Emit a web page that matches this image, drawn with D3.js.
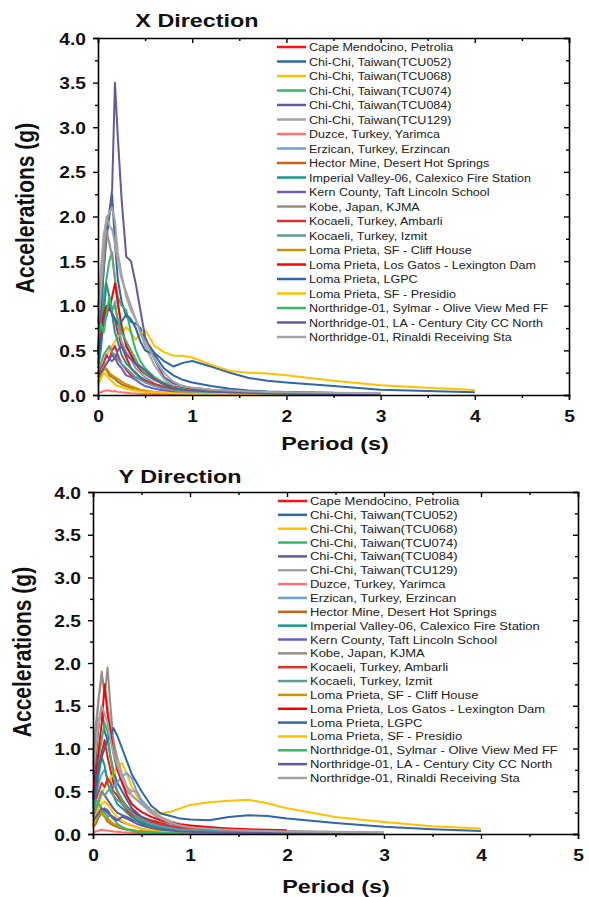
<!DOCTYPE html>
<html>
<head>
<meta charset="utf-8">
<script src="https://cdn.jsdelivr.net/npm/d3@7"></script>
<style>
  html, body { margin: 0; padding: 0; background: #fff; }
  svg { display: block; }
  text { font-family: "Liberation Sans", Arial, sans-serif; }
</style>
</head>
<body>
<svg id="chart" width="589" height="897"></svg>
<script>
// ---------------- DATA ----------------
const periods = [0, 0.03, 0.06, 0.09, 0.12, 0.15, 0.18, 0.21, 0.25, 0.3, 0.35, 0.4, 0.45, 0.5,
                 0.6, 0.7, 0.8, 0.9, 1.0, 1.2, 1.4, 1.6, 1.8, 2.0, 2.5, 3.0, 3.5, 4.0];

const seriesNames = [
  "Cape Mendocino, Petrolia",
  "Chi-Chi, Taiwan(TCU052)",
  "Chi-Chi, Taiwan(TCU068)",
  "Chi-Chi, Taiwan(TCU074)",
  "Chi-Chi, Taiwan(TCU084)",
  "Chi-Chi, Taiwan(TCU129)",
  "Duzce, Turkey, Yarimca",
  "Erzican, Turkey, Erzincan",
  "Hector Mine, Desert Hot Springs",
  "Imperial Valley-06, Calexico Fire Station",
  "Kern County, Taft Lincoln School",
  "Kobe, Japan, KJMA",
  "Kocaeli, Turkey, Ambarli",
  "Kocaeli, Turkey, Izmit",
  "Loma Prieta, SF - Cliff House",
  "Loma Prieta, Los Gatos - Lexington Dam",
  "Loma Prieta, LGPC",
  "Loma Prieta, SF - Presidio",
  "Northridge-01, Sylmar - Olive View Med FF",
  "Northridge-01, LA - Century City CC North",
  "Northridge-01, Rinaldi Receiving Sta"
];

const seriesColors = [
  "#ff1010", "#2f67a8", "#ffc000", "#35b868", "#5f5c9e", "#a4a4a4", "#ff7272",
  "#6fa0d8", "#c6641c", "#139a8b", "#6a5fc6", "#9b8c82", "#db2f2f", "#5e9c9c",
  "#c99500", "#ff0000", "#2f67a8", "#ffc000", "#35b868", "#5f5c9e", "#a4a4a4"
];

const _ = null;
// X direction spectral accelerations (g), one row per record, aligned with periods
const accX = [
  [0.45,0.7,0.95,0.88,1.02,0.92,0.85,0.7,0.55,0.42,0.3,0.25,0.2,0.16,0.11,0.08,0.06,0.05,0.04,0.03,0.025,0.02,0.018,0.015,_,_,_,_],
  [0.5,0.9,1.4,1.75,2.0,2.25,1.7,1.3,1.05,0.88,0.82,0.8,0.75,0.62,0.47,0.38,0.32,0.36,0.38,0.32,0.25,0.19,0.16,0.14,0.1,0.06,0.045,0.03],
  [0.25,0.3,0.38,0.45,0.5,0.55,0.6,0.65,0.7,0.76,0.7,0.62,0.68,0.73,0.55,0.48,0.44,0.44,0.42,0.34,0.27,0.25,0.24,0.22,0.16,0.11,0.08,0.055],
  [0.35,0.7,1.1,1.3,1.5,1.6,1.3,1.1,1.0,0.95,0.7,0.5,0.38,0.3,0.2,0.14,0.1,0.08,0.06,0.04,0.03,0.025,0.02,0.018,0.012,_,_,_],
  [0.5,0.9,1.4,1.9,2.05,2.3,3.5,2.9,2.2,1.55,1.5,1.25,0.95,0.65,0.4,0.2,0.13,0.1,0.08,0.06,0.05,0.04,0.035,0.03,0.02,0.015,_,_],
  [0.95,1.4,1.8,1.95,2.05,2.1,1.95,1.6,1.35,1.1,0.95,0.85,0.7,0.55,0.33,0.18,0.1,0.08,0.06,0.05,0.04,0.035,0.03,0.025,0.02,0.015,_,_],
  [0.02,0.03,0.045,0.05,0.05,0.04,0.045,0.035,0.03,0.025,0.02,0.018,0.015,0.012,0.01,0.008,0.007,0.006,0.005,_,_,_,_,_,_,_,_,_],
  [0.3,0.55,0.8,0.95,1.0,0.95,1.05,0.8,0.6,0.48,0.4,0.3,0.25,0.2,0.13,0.09,0.07,0.05,0.04,0.03,0.025,0.02,0.018,0.015,_,_,_,_],
  [0.15,0.2,0.3,0.28,0.22,0.2,0.18,0.15,0.12,0.1,0.08,0.07,0.05,0.04,0.03,0.02,0.015,0.012,0.01,0.008,0.006,0.005,0.004,0.004,_,_,_,_],
  [0.3,0.5,0.9,1.25,1.1,0.9,0.7,0.6,0.45,0.35,0.3,0.24,0.2,0.17,0.12,0.09,0.07,0.06,0.05,0.04,0.03,0.025,0.02,0.018,_,_,_,_],
  [0.15,0.2,0.3,0.35,0.4,0.38,0.42,0.35,0.3,0.22,0.2,0.17,0.13,0.1,0.07,0.05,0.04,0.03,0.025,0.02,0.015,0.012,0.01,0.01,_,_,_,_],
  [0.8,1.1,1.5,1.85,1.7,1.55,1.3,1.0,0.8,0.55,0.45,0.35,0.3,0.25,0.18,0.12,0.09,0.07,0.06,0.045,0.035,0.03,0.025,0.02,0.015,_,_,_],
  [0.2,0.3,0.35,0.45,0.4,0.5,0.55,0.45,0.35,0.28,0.22,0.2,0.18,0.16,0.12,0.09,0.07,0.05,0.04,0.03,0.025,0.02,0.018,0.015,_,_,_,_],
  [0.25,0.35,0.45,0.5,0.55,0.48,0.45,0.4,0.35,0.3,0.25,0.2,0.17,0.14,0.1,0.07,0.05,0.04,0.035,0.03,0.02,0.018,0.015,0.012,_,_,_,_],
  [0.12,0.2,0.28,0.3,0.25,0.22,0.2,0.18,0.15,0.12,0.1,0.08,0.06,0.05,0.035,0.025,0.02,0.015,0.012,0.01,0.008,0.006,0.005,0.005,_,_,_,_],
  [0.5,0.7,0.9,1.0,0.95,1.1,1.25,1.05,0.75,0.55,0.45,0.35,0.28,0.24,0.17,0.12,0.09,0.075,0.06,0.05,0.04,0.035,0.03,0.028,_,_,_,_],
  [0.45,0.6,0.8,0.95,1.0,0.9,0.85,0.8,0.82,0.9,0.85,0.75,0.6,0.5,0.45,0.3,0.22,0.17,0.14,0.1,0.07,0.05,0.04,0.035,0.025,_,_,_],
  [0.1,0.18,0.25,0.22,0.18,0.15,0.12,0.1,0.09,0.07,0.06,0.05,0.04,0.035,0.03,0.025,0.02,0.018,0.015,0.012,0.01,0.008,0.007,0.006,_,_,_,_],
  [0.6,0.8,0.7,0.9,1.1,0.95,1.0,0.85,0.7,0.6,0.5,0.4,0.3,0.25,0.18,0.12,0.09,0.07,0.05,0.04,0.03,0.025,0.02,0.018,0.012,_,_,_],
  [0.2,0.25,0.3,0.35,0.4,0.45,0.4,0.5,0.55,0.45,0.4,0.35,0.32,0.28,0.18,0.12,0.08,0.06,0.05,0.04,0.03,0.025,0.02,0.018,0.012,0.01,_,_],
  [0.8,1.2,1.7,2.0,1.9,1.85,1.7,1.5,1.3,1.15,1.0,0.85,0.7,0.6,0.4,0.25,0.15,0.1,0.08,0.06,0.05,0.04,0.035,0.03,0.025,0.02,_,_]
];

// Y direction spectral accelerations (g)
const accY = [
  [0.4,0.6,0.8,0.95,1.1,0.9,0.75,0.6,0.5,0.4,0.32,0.27,0.23,0.2,0.16,0.13,0.11,0.1,0.09,0.07,0.055,0.045,0.035,0.03,_,_,_,_],
  [0.4,0.9,1.3,1.5,1.2,1.1,0.9,0.75,0.6,0.5,0.4,0.3,0.25,0.2,0.15,0.1,0.08,0.06,0.05,0.04,0.03,0.025,0.02,0.018,0.014,0.01,_,_],
  [0.15,0.25,0.35,0.45,0.55,0.6,0.65,0.7,0.78,0.83,0.7,0.55,0.45,0.38,0.28,0.24,0.26,0.3,0.34,0.37,0.39,0.4,0.36,0.3,0.2,0.14,0.09,0.065],
  [0.3,0.6,0.9,1.1,1.3,1.2,0.9,0.7,0.5,0.4,0.3,0.25,0.2,0.16,0.1,0.07,0.05,0.04,0.03,0.02,0.015,0.012,0.01,0.01,_,_,_,_],
  [0.2,0.3,0.4,0.5,0.45,0.4,0.35,0.3,0.25,0.22,0.2,0.17,0.15,0.12,0.09,0.07,0.05,0.04,0.035,0.03,0.025,0.02,0.018,0.015,0.012,0.01,_,_],
  [0.9,1.3,1.6,1.85,1.7,1.5,1.3,1.1,0.9,0.7,0.55,0.5,0.5,0.4,0.28,0.2,0.15,0.12,0.1,0.08,0.06,0.05,0.04,0.035,0.025,0.02,_,_],
  [0.02,0.03,0.04,0.05,0.045,0.04,0.035,0.03,0.025,0.02,0.018,0.015,0.012,0.01,0.008,0.006,0.005,0.004,0.004,_,_,_,_,_,_,_,_,_],
  [0.3,0.45,0.6,0.7,0.75,0.65,0.6,0.55,0.6,0.68,0.71,0.65,0.5,0.38,0.25,0.16,0.11,0.08,0.06,0.045,0.035,0.03,0.025,0.02,_,_,_,_],
  [0.08,0.12,0.2,0.25,0.2,0.15,0.12,0.1,0.08,0.06,0.05,0.04,0.03,0.025,0.02,0.015,0.012,0.01,0.008,0.006,0.005,0.004,0.004,0.003,_,_,_,_],
  [0.3,0.45,0.7,0.9,0.8,0.6,0.5,0.45,0.35,0.3,0.25,0.2,0.17,0.14,0.1,0.07,0.05,0.04,0.035,0.03,0.025,0.02,0.018,0.015,_,_,_,_],
  [0.1,0.15,0.2,0.25,0.3,0.28,0.22,0.2,0.17,0.14,0.12,0.1,0.08,0.06,0.04,0.03,0.025,0.02,0.015,0.012,0.01,0.008,0.007,0.006,_,_,_,_],
  [0.8,1.2,1.6,1.9,1.6,1.95,1.5,1.1,0.8,0.6,0.5,0.45,0.4,0.35,0.25,0.18,0.13,0.1,0.08,0.06,0.05,0.04,0.035,0.03,0.02,_,_,_],
  [0.25,0.4,0.5,0.6,0.55,0.65,0.6,0.5,0.45,0.35,0.28,0.22,0.2,0.18,0.14,0.11,0.09,0.08,0.07,0.06,0.05,0.045,0.04,0.035,_,_,_,_],
  [0.2,0.3,0.4,0.5,0.45,0.5,0.55,0.45,0.4,0.35,0.3,0.25,0.2,0.17,0.12,0.09,0.07,0.05,0.04,0.03,0.025,0.02,0.018,0.015,_,_,_,_],
  [0.1,0.15,0.22,0.25,0.2,0.18,0.15,0.12,0.1,0.08,0.06,0.05,0.04,0.035,0.025,0.02,0.015,0.012,0.01,0.008,0.006,0.005,0.004,0.004,_,_,_,_],
  [0.45,0.7,1.0,1.3,1.75,1.4,1.2,0.95,0.75,0.6,0.45,0.35,0.3,0.26,0.2,0.16,0.13,0.11,0.1,0.08,0.065,0.055,0.05,0.045,_,_,_,_],
  [0.35,0.55,0.8,0.9,1.0,1.1,1.15,1.24,1.15,1.0,0.85,0.7,0.6,0.5,0.33,0.24,0.21,0.18,0.17,0.16,0.2,0.22,0.21,0.18,0.13,0.085,0.055,0.035],
  [0.1,0.2,0.3,0.35,0.38,0.35,0.3,0.25,0.2,0.15,0.12,0.1,0.08,0.06,0.045,0.035,0.03,0.025,0.02,0.015,0.012,0.01,0.008,0.008,_,_,_,_],
  [0.3,0.4,0.35,0.3,0.25,0.2,0.22,0.18,0.12,0.08,0.05,0.04,0.03,0.025,0.02,0.015,0.012,0.01,0.01,0.008,0.007,0.006,0.005,0.005,0.004,_,_,_],
  [0.15,0.2,0.25,0.3,0.28,0.25,0.22,0.18,0.16,0.2,0.18,0.15,0.12,0.1,0.07,0.05,0.04,0.03,0.025,0.02,0.016,0.013,0.011,0.01,0.008,_,_,_],
  [0.7,1.0,1.3,1.5,1.4,1.3,1.1,0.95,0.8,0.65,0.55,0.45,0.4,0.35,0.25,0.18,0.13,0.1,0.08,0.06,0.05,0.04,0.035,0.03,0.022,0.018,_,_]
];

const xTickValues = [0, 1, 2, 3, 4, 5];
const xMinorTickValues = [0.5, 1.5, 2.5, 3.5, 4.5];
const yTickValues = [0, 0.5, 1.0, 1.5, 2.0, 2.5, 3.0, 3.5, 4.0];
const yMinorTickValues = [0.25, 0.75, 1.25, 1.75, 2.25, 2.75, 3.25, 3.75];

const panelTitles = ["X Direction", "Y Direction"];
const xAxisTitle = "Period (s)";
const yAxisTitle = "Accelerations (g)";

// ---------------- DRAW ----------------
const svg = d3.select("#chart");
const SX = 1.2; // horizontal stretch of the reference lettering

const panels = [
  { data: accX, title: panelTitles[0], left: 98, right: 569, top: 38, bottom: 395,
    titleX: 197, titleY: 27, xTitleX: 335, xTitleY: 450, yTitleX: 34, yTitleY: 208,
    legX: 277, legY: 47, legStep: 14.5, legSX: 1.11 },
  { data: accY, title: panelTitles[1], left: 93, right: 578, top: 492, bottom: 834,
    titleX: 180, titleY: 483, xTitleX: 336, xTitleY: 893, yTitleX: 31, yTitleY: 652,
    legX: 278, legY: 501, legStep: 13.85, legSX: 1.15 }
];

function stretchedText(g, x, y, str, size, sx, anchor) {
  return g.append("text")
    .attr("transform", `translate(${x},${y}) scale(${sx},1)`)
    .attr("text-anchor", anchor || "middle")
    .attr("font-size", size)
    .attr("font-weight", "bold")
    .attr("fill", "#111")
    .text(str);
}

panels.forEach(p => {
  const g = svg.append("g");
  const x = d3.scaleLinear().domain([0, 5]).range([p.left, p.right]);
  const y = d3.scaleLinear().domain([0, 4]).range([p.bottom, p.top]);

  // curves
  const line = d3.line()
    .defined(d => d[1] !== null)
    .x(d => x(d[0]))
    .y(d => y(d[1]));
  const curves = g.append("g");
  p.data.forEach((vals, i) => {
    const pts = periods.map((t, k) => [t, vals[k]]);
    curves.append("path")
      .attr("d", line(pts))
      .attr("fill", "none")
      .attr("stroke", seriesColors[i])
      .attr("stroke-width", 2)
      .attr("stroke-linejoin", "round");
  });

  // axes
  const axStyle = sel => {
    sel.select(".domain").attr("stroke", "#000").attr("stroke-width", 1.6);
    sel.selectAll(".tick line").attr("stroke", "#000").attr("stroke-width", 1.4);
  };
  const bottomAx = g.append("g").attr("transform", `translate(0,${p.bottom})`)
    .call(d3.axisBottom(x).tickValues(xTickValues).tickFormat(d3.format("d")).tickSize(5).tickPadding(8))
    .call(axStyle);
  g.append("g").attr("transform", `translate(0,${p.bottom})`)
    .call(d3.axisBottom(x).tickValues(xMinorTickValues).tickFormat("").tickSize(3))
    .call(axStyle).select(".domain").remove();
  g.append("g").attr("transform", `translate(0,${p.top})`)
    .call(d3.axisTop(x).tickValues(xTickValues).tickFormat("").tickSize(-5))
    .call(axStyle);
  g.append("g").attr("transform", `translate(0,${p.top})`)
    .call(d3.axisTop(x).tickValues(xMinorTickValues).tickFormat("").tickSize(-3))
    .call(axStyle).select(".domain").remove();

  const leftAx = g.append("g").attr("transform", `translate(${p.left},0)`)
    .call(d3.axisLeft(y).tickValues(yTickValues).tickFormat(d3.format(".1f")).tickSize(5))
    .call(axStyle);
  g.append("g").attr("transform", `translate(${p.left},0)`)
    .call(d3.axisLeft(y).tickValues(yMinorTickValues).tickFormat("").tickSize(3))
    .call(axStyle).select(".domain").remove();
  g.append("g").attr("transform", `translate(${p.right},0)`)
    .call(d3.axisRight(y).tickValues(yTickValues).tickFormat("").tickSize(-5))
    .call(axStyle);
  g.append("g").attr("transform", `translate(${p.right},0)`)
    .call(d3.axisRight(y).tickValues(yMinorTickValues).tickFormat("").tickSize(-3))
    .call(axStyle).select(".domain").remove();

  // tick label styling (bold, horizontally stretched)
  bottomAx.selectAll(".tick text")
    .attr("font-family", "Liberation Sans, Arial, sans-serif")
    .attr("font-size", 16).attr("font-weight", "bold").attr("fill", "#111")
    .attr("y", null).attr("dy", null)
    .attr("transform", `translate(0,27) scale(${SX},1)`);
  leftAx.selectAll(".tick text")
    .attr("font-family", "Liberation Sans, Arial, sans-serif")
    .attr("font-size", 16).attr("font-weight", "bold").attr("fill", "#111")
    .attr("x", null).attr("dy", null)
    .attr("transform", `translate(-12,6) scale(${SX},1)`);

  // titles
  stretchedText(g, p.titleX, p.titleY, p.title, 19, SX + 0.03, "middle");
  stretchedText(g, p.xTitleX, p.xTitleY, xAxisTitle, 19, SX + 0.03, "middle");
  g.append("text")
    .attr("transform", `translate(${p.yTitleX},${p.yTitleY}) scale(${SX},1) rotate(-90)`)
    .attr("text-anchor", "middle")
    .attr("font-size", 21)
    .attr("font-weight", "bold")
    .attr("fill", "#111")
    .text(yAxisTitle);

  // legend
  const leg = g.append("g");
  seriesNames.forEach((name, i) => {
    const cy = p.legY + i * p.legStep;
    leg.append("line")
      .attr("x1", p.legX).attr("x2", p.legX + 29)
      .attr("y1", cy).attr("y2", cy)
      .attr("stroke", seriesColors[i]).attr("stroke-width", 2.5);
    leg.append("text")
      .attr("transform", `translate(${p.legX + 32},${cy + 4}) scale(${p.legSX},1)`)
      .attr("font-size", 11.3)
      .attr("fill", "#222")
      .text(name);
  });
});
</script>
</body>
</html>
